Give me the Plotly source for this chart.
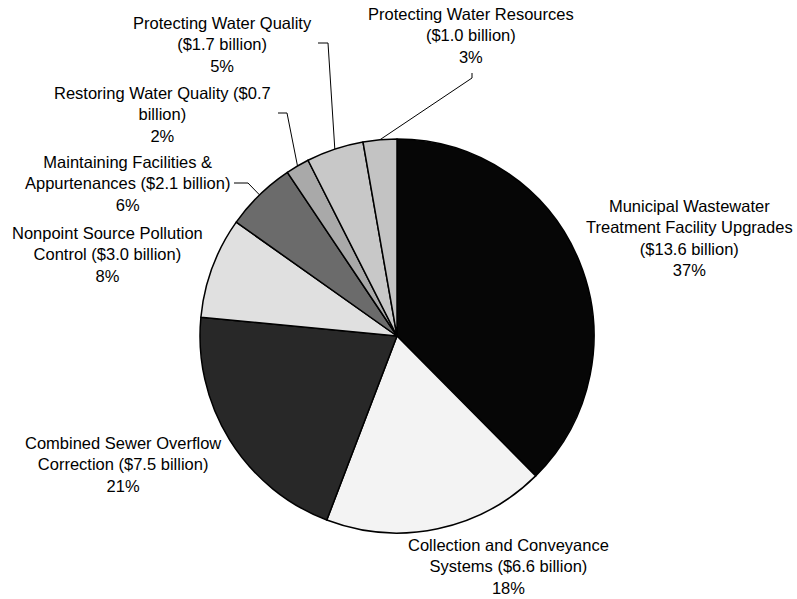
import math
import plotly.graph_objects as go

# Clean Water needs by category, billions of dollars (clockwise from 12 o'clock)
categories = [
    "Municipal Wastewater Treatment Facility Upgrades",
    "Collection and Conveyance Systems",
    "Combined Sewer Overflow Correction",
    "Nonpoint Source Pollution Control",
    "Maintaining Facilities & Appurtenances",
    "Restoring Water Quality",
    "Protecting Water Quality",
    "Protecting Water Resources",
]
billions = [13.6, 6.6, 7.5, 3.0, 2.1, 0.7, 1.7, 1.0]
percent_labels = ["37%", "18%", "21%", "8%", "6%", "2%", "5%", "3%"]
label_text = [
    "Municipal Wastewater<br>Treatment Facility Upgrades<br>($13.6 billion)<br>37%",
    "Collection and Conveyance<br>Systems ($6.6 billion)<br>18%",
    "Combined Sewer Overflow<br>Correction ($7.5 billion)<br>21%",
    "Nonpoint Source Pollution<br>Control ($3.0 billion)<br>8%",
    "Maintaining Facilities &<br>Appurtenances ($2.1 billion)<br>6%",
    "Restoring Water Quality ($0.7<br>billion)<br>2%",
    "Protecting Water Quality<br>($1.7 billion)<br>5%",
    "Protecting Water Resources<br>($1.0 billion)<br>3%",
]
slice_colors = ["#060606", "#f3f3f3", "#282828", "#e0e0e0",
                "#6b6b6b", "#a9a9a9", "#c8c8c8", "#c3c3c3"]

W, H = 797, 599
CX, CY, R = 397, 336, 197  # pie centre and radius in pixels

# label centres (pixels) and leader-line elbows
label_pos = [(689, 238), (508, 566), (123, 464), (107, 254),
             (127, 183), (162, 114), (223, 44), (471, 36)]
leader_elbow = {
    4: [(234, 183), (248, 183)],
    5: [(278, 113), (287, 113)],
    6: [(318, 43), (328, 43)],
    7: [(472, 73), (472, 78)],
}


def px(x):
    return x / W


def py(y):
    return 1 - y / H


fig = go.Figure(go.Pie(
    labels=categories,
    values=billions,
    sort=False,
    direction="clockwise",
    rotation=0,
    textinfo="none",
    hoverinfo="label+value+percent",
    marker=dict(colors=slice_colors, line=dict(color="#000000", width=1.5)),
    domain=dict(x=[px(CX - R), px(CX + R)], y=[py(CY + R), py(CY - R)]),
    showlegend=False,
))

annotations = []
for (x, y), txt in zip(label_pos, label_text):
    annotations.append(dict(
        x=px(x), y=py(y), xref="paper", yref="paper", text=txt,
        showarrow=False, align="center", xanchor="center", yanchor="middle",
        font=dict(family="Liberation Sans, Arial, sans-serif", size=16.5, color="#000000"),
    ))

# leader lines end at the slice mid-angle on the rim
shapes = []
total = sum(billions)
cum = 0.0
for i, v in enumerate(billions):
    mid = (cum + v / 2) / total * 2 * math.pi
    cum += v
    if i not in leader_elbow:
        continue
    rim = (CX + R * math.sin(mid), CY - R * math.cos(mid))
    pts = leader_elbow[i] + [rim]
    for (x0, y0), (x1, y1) in zip(pts[:-1], pts[1:]):
        shapes.append(dict(type="line", xref="paper", yref="paper",
                           x0=px(x0), y0=py(y0), x1=px(x1), y1=py(y1),
                           line=dict(color="#000000", width=1)))

fig.update_layout(
    width=W, height=H,
    margin=dict(l=0, r=0, t=0, b=0),
    paper_bgcolor="#ffffff",
    plot_bgcolor="#ffffff",
    annotations=annotations,
    shapes=shapes,
)

fig.write_html("out.html")
